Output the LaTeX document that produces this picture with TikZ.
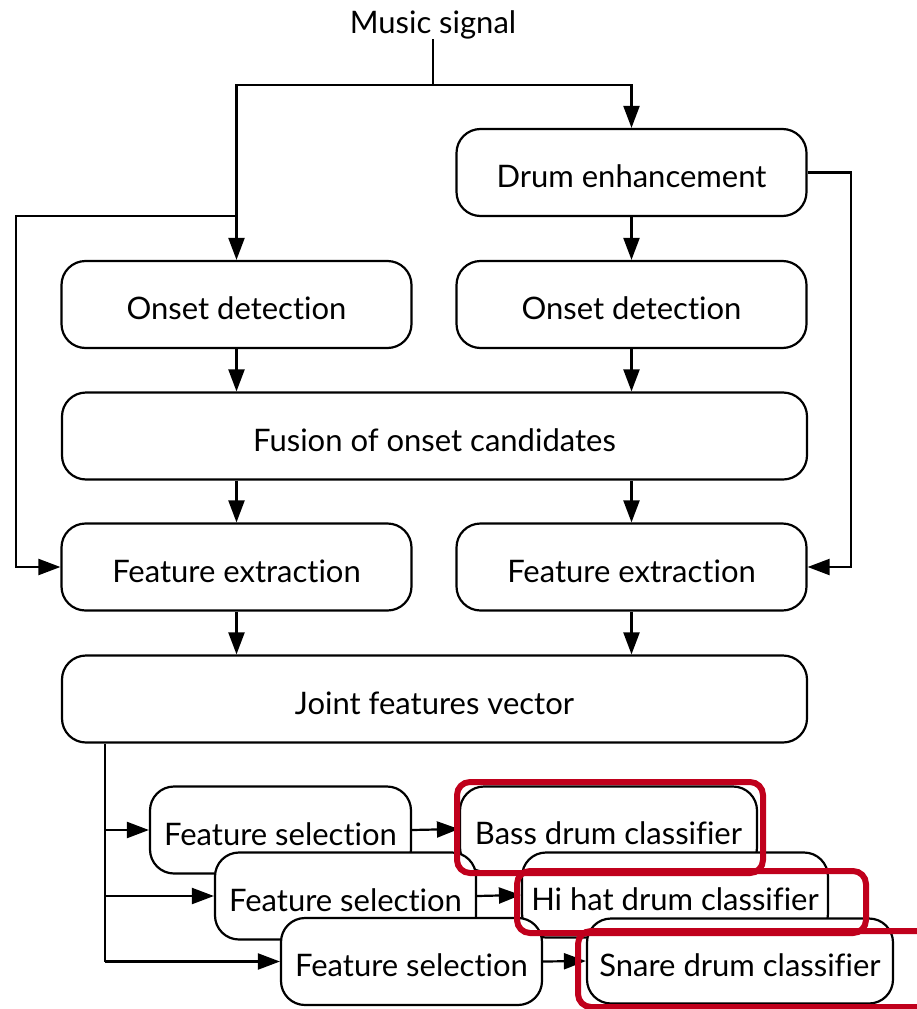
\documentclass[tikz,border=0pt]{standalone}
\usepackage{fontspec}
\setmainfont{Lato}[Ligatures=NoCommon]
\usetikzlibrary{arrows.meta}
\definecolor{hilite}{RGB}{192,0,28}
\begin{document}
\begin{tikzpicture}[x=1pt,y=-1pt,
  every node/.style={font=\fontsize{31}{34}\selectfont},
  blk/.style={draw=black, line width=2.2pt, rounded corners=24pt, fill=white,
              inner sep=0pt, minimum height=87pt, text height=36pt, text depth=6pt},
  wide/.style={blk, minimum width=745pt},
  half/.style={blk, minimum width=350pt},
  sel/.style={blk, minimum width=261pt, minimum height=87pt},
  cls/.style={blk, minimum width=306pt, minimum height=85pt},
  arr/.style={draw=black, line width=2.2pt, -{Triangle[length=22pt,width=16pt]}},
  wire/.style={draw=black, line width=2.2pt},
  hibox/.style={draw=hilite, line width=6pt, rounded corners=13pt}]
\useasboundingbox[fill=white] (0,0) rectangle (916,1009);

% input and drum enhancement
\node[inner sep=0pt, anchor=south] (music) at (433,39) {Music signal};
\node[half] (de) at (631.5,172.5) {Drum enhancement};

% onset detection stage
\node[half] (onL) at (236.5,304.5) {Onset detection};
\node[half] (onR) at (631.5,304.5) {Onset detection};
\node[wide] (fus) at (434.5,436) {Fusion of onset candidates};

% feature extraction stage
\node[half] (feL) at (236.5,567) {Feature extraction};
\node[half] (feR) at (631.5,567) {Feature extraction};
\node[wide] (joint) at (434.5,699) {Joint features vector};

% branching points
\coordinate (s1) at (433,85);
\coordinate (s2) at (236.5,216);
\coordinate (bl) at (16,216);
\coordinate (jb) at (105,743);

\draw[wire] (music.south) -- (s1);
\draw[arr] (s1) -| (de.north);
\draw[arr] (s1) -| (onL.north);
\draw[arr] (s2) -- (bl) |- (feL.west);
\draw[arr] (de.east) -- ++(43,0) |- (feR.east);
\draw[arr] (de.south) -- (onR.north);
\draw[arr] (onL.south) -- (onL.south |- fus.north);
\draw[arr] (onR.south) -- (onR.south |- fus.north);
\draw[arr] (onL.south |- fus.south) -- (feL.north);
\draw[arr] (onR.south |- fus.south) -- (feR.north);
\draw[arr] (feL.south) -- (feL.south |- joint.north);
\draw[arr] (feR.south) -- (feR.south |- joint.north);

% per-instrument selection and classification, stacked
\node[sel] (fs1) at (280.5,830) {Feature selection};
\node[cls, minimum width=297pt] (bass) at (608.5,829) {Bass drum classifier};
\draw[arr] (fs1.east) -- (bass.west);
\node[sel] (fs2) at (345.5,896) {Feature selection};
\node[cls] (hihat) at (675,895) {Hi hat drum classifier};
\draw[arr] (fs2.east) -- (hihat.west);
\node[sel] (fs3) at (411.5,961.5) {Feature selection};
\node[cls] (snare) at (740,961) {Snare drum classifier};
\draw[arr] (fs3.east) -- (snare.west);

\draw[wire] (joint.south -| jb) -- (jb |- fs3.west);
\draw[arr] (jb |- fs1.west) -- (fs1.west);
\draw[arr] (jb |- fs2.west) -- (fs2.west);
\draw[arr] (jb |- fs3.west) -- (fs3.west);

% highlighted classifiers
\draw[hibox] (457,782) rectangle (763,873);
\draw[hibox] (517,871) rectangle (866,933);
\draw[hibox] (578,931) rectangle (940,1007);
\end{tikzpicture}
\end{document}
